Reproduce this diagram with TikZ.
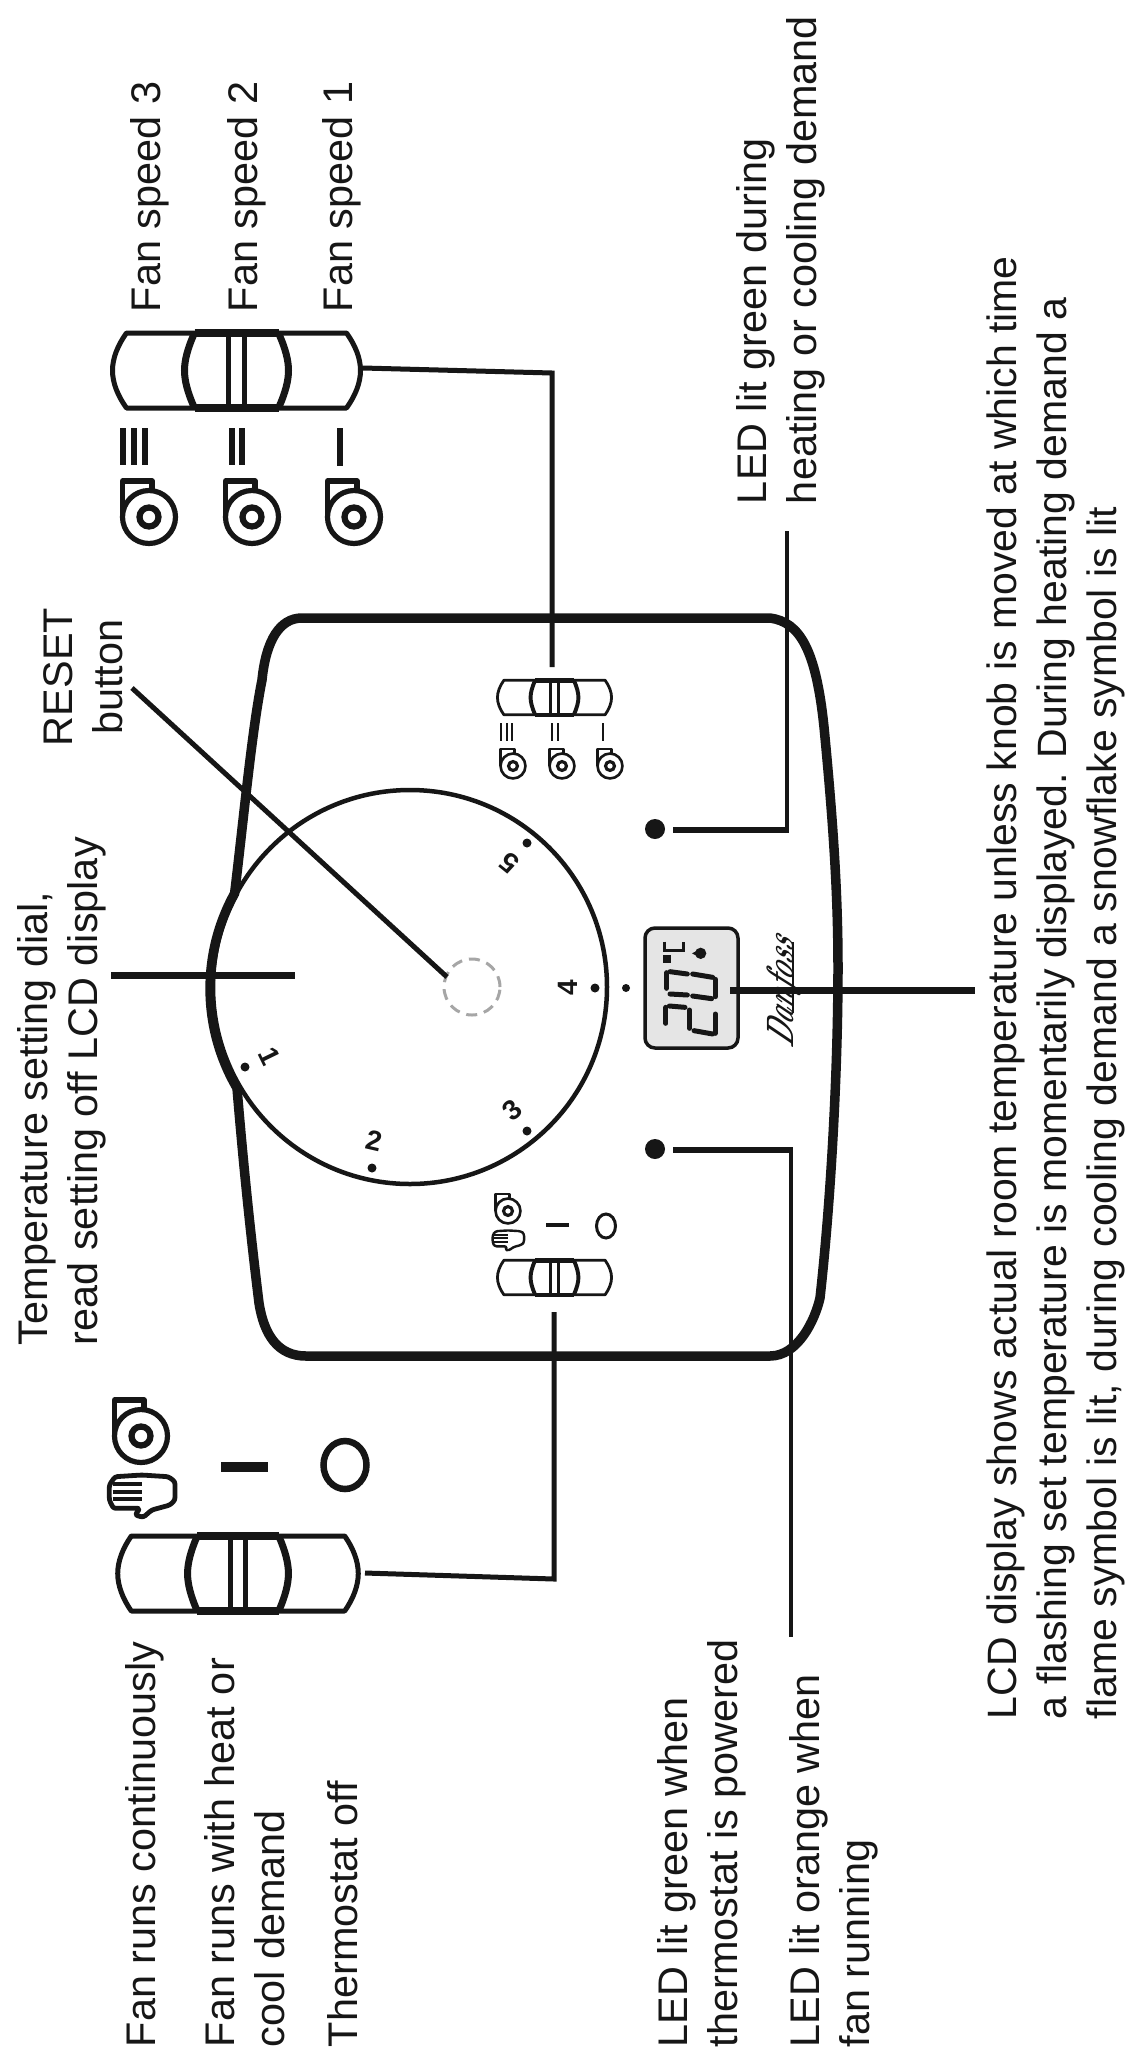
\documentclass[tikz,border=0pt]{standalone}
\usepackage{fontspec}
\setsansfont{Liberation Sans}
\usetikzlibrary{calc,shapes.geometric}
\definecolor{ink}{HTML}{161616}
\tikzset{
 lab/.style={rotate=90,anchor=base west,inner sep=0pt,outer sep=0pt,text=ink,align=left,font=\sffamily\fontsize{41.4}{49.8}\selectfont},
 labc/.style={lab,align=center,anchor=base},
 lead/.style={draw=ink,line width=#1,line cap=butt,line join=miter},
 dialnum/.style={inner sep=0pt,text=ink,font=\sffamily\bfseries\fontsize{28}{28}\selectfont},
 dialdot/.style={circle,fill=ink,inner sep=0pt,minimum size=#1},
 ledlamp/.style={circle,fill=ink,inner sep=0pt,minimum size=20pt},
 segm/.style={draw=ink,line width=5pt,line cap=round,line join=round},
 barmark/.style={draw=ink,line width=#1},
 pics/slidersym/.style={code={
   \draw[draw=ink,line width=#1,line join=round]
     (-110,-37.5) -- (110,-37.5) .. controls (119,-25) and (124,-12) .. (124,0)
     .. controls (124,12) and (119,25) .. (110,37.5) -- (-110,37.5)
     .. controls (-119,25) and (-124,12) .. (-124,0)
     .. controls (-124,-12) and (-119,-25) .. (-110,-37.5) -- cycle;
   \draw[draw=ink,line width=1.4*#1]
     (-42,-37.5) .. controls (-49,-22) and (-52,-10) .. (-52,0) .. controls (-52,10) and (-49,22) .. (-42,37.5);
   \draw[draw=ink,line width=1.4*#1]
     (42,-37.5) .. controls (49,-22) and (52,-10) .. (52,0) .. controls (52,10) and (49,22) .. (42,37.5);
   \draw[draw=ink,line width=1.6*#1] (-42,-37.5) -- (42,-37.5) (-42,37.5) -- (42,37.5);
   \draw[draw=ink,line width=#1] (-8,-37.5) -- (-8,37.5) (8,-37.5) -- (8,37.5);
 }},
 pics/fansym/.style={code={
   \draw[draw=ink,line width=#1] (0,0) circle[radius=26.5];
   \draw[draw=ink,line width=1.2*#1] (0,0) circle[radius=9.5];
   \draw[draw=ink,line width=#1,line join=round] (-26.5,0) -- (-26.5,-36) -- (3,-36) -- (3,-25);
 }},
 pics/handsym/.style={code={
   \draw[draw=ink,line width=#1,rounded corners=2.5pt,line join=round]
    (-0.8,-20) -- (26,-18.3) -- (32.5,-13.3) -- (32.5,5) -- (27.5,10) -- (9.2,15) -- (0.8,22.3)
    -- (-7.5,20) -- (-2.5,13.3) -- (-29.2,13.3) -- (-33.2,5) -- (-33.2,-10) -- (-27.5,-18.3) -- cycle;
   \draw[draw=ink,line width=.8*#1] (-30,-11) -- (-0.8,-11) (-30,-3.3) -- (-0.8,-3.3) (-30,4.3) -- (-0.8,4.3);
 }},
}
\begin{document}
\begin{tikzpicture}[x=1pt,y=-1pt]
\useasboundingbox (0,0) rectangle (1128,2051);
\fill[white] (0,0) rectangle (1128,2051);

% housing, whose upper edge follows the dial
\draw[draw=ink,line width=9.5pt,line join=round]
  (302,618) -- (770,618) .. controls (800,622) and (816,650) .. (824,727)
  .. controls (834,830) and (838,900) .. (838,968)
  .. controls (838,1060) and (832,1190) .. (820,1298)
  .. controls (815,1320) and (798,1356) .. (770,1356)
  -- (306,1356) .. controls (278,1356) and (264,1335) .. (259,1303)
  .. controls (250,1230) and (243,1160) .. (237,1088)
  arc[start angle=149.7,end angle=208.9,radius=197]
  .. controls (244,815) and (252,730) .. (262,680)
  .. controls (266,640) and (280,618) .. (302,618) -- cycle;

% dial
\coordinate (dialc) at (410,987);
\draw[draw=ink,line width=4.5pt] (dialc) circle[radius=197];
\node[draw=black!35,circle,line width=3pt,dash pattern=on 11pt off 7pt,minimum size=56pt,inner sep=0pt] (resetbtn) at (472,987) {};
\node[dialdot=9pt] (d1) at (245,1067) {};
\node[dialdot=9pt] (d2) at (372,1168) {};
\node[dialdot=9pt] (d3) at (527,1131) {};
\node[dialdot=9pt] (d4) at (595,988) {};
\node[dialdot=8pt] (d4b) at (626,988) {};
\node[dialdot=9pt] (d5) at (527,843) {};
\node[dialnum,rotate=-64] (n1) at (270,1056) {1};
\node[dialnum,rotate=-13] (n2) at (374,1141) {2};
\node[dialnum,rotate=40] (n3) at (512,1110) {3};
\node[dialnum,rotate=90] (n4) at (568,988) {4};
\node[dialnum,rotate=141] (n5) at (509,863) {5};

% LEDs
\node[ledlamp] (ledtop) at (655,829) {};
\node[ledlamp] (ledbot) at (655,1149) {};

% LCD
\node[draw=ink,fill=black!10,line width=3.5pt,rounded corners=10pt,minimum width=93pt,minimum height=120pt,inner sep=0pt] (lcd) at (691.5,988) {};
\begin{scope}[shift={(570,900)},x=0.3333pt,y=-0.3333pt]
  \draw[segm] (290,218) -- (290,265);
  \draw[segm] (300,215) -- (352,222) (368,222) -- (428,232);
  \draw[segm] (300,282) -- (352,285) (368,288) -- (425,296);
  \draw[segm] (436,238) -- (436,290);
  \draw[segm] (288,322) -- (288,370);
  \draw[segm] (298,318) -- (345,322);
  \draw[segm] (358,330) -- (358,385);
  \draw[segm] (372,392) -- (428,402);
  \draw[segm] (436,342) -- (436,400);
  \fill[ink] (280,165) rectangle (304,188);
  \draw[draw=ink,line width=3pt] (283,125) -- (283,152) -- (340,152) -- (340,125);
  \fill[ink] (392,160) circle[radius=17];
  \fill[ink] (366,160) -- (385,150) -- (385,170) -- cycle;
\end{scope}

% brand
\node[rotate=90,xslant=.5,xscale=.7,anchor=base,inner sep=0pt,text=ink,font=\rmfamily\itshape\bfseries\fontsize{38}{38}\selectfont] (brand) at (793,995) {Danfoss};
\coordinate (brandu1) at (793,942);
\coordinate (brandu2) at (793,1013);
\draw[draw=ink,line width=2pt] (brandu1) -- (brandu2);

% small sliders and their symbols
\pic at (554.5,697.5) [scale=.46] {slidersym=2.8pt};
\pic at (554.5,1277.5) [scale=.46] {slidersym=2.8pt};
\pic at (513,766) [scale=.47] {fansym=2.6pt};
\pic at (562,766) [scale=.47] {fansym=2.6pt};
\pic at (610,766) [scale=.47] {fansym=2.6pt};
\draw[barmark=2pt] (501,723) -- (501,741) (506.5,723) -- (506.5,741) (512,723) -- (512,741);
\draw[barmark=2.4pt] (552,723) -- (552,741) (558,723) -- (558,741);
\draw[barmark=2.4pt] (603,723) -- (603,741);
\pic at (508,1211) [scale=.47] {fansym=2.6pt};
\pic at (508.5,1240) [scale=.48] {handsym=2.4pt};
\draw[barmark=4.5pt] (546,1225) -- (569,1225);
\node[draw=ink,ellipse,line width=3pt,minimum width=19pt,minimum height=24pt,inner sep=0pt] (offsmall) at (606,1226) {};

% large fan speed detail
\pic at (236.5,370.5) {slidersym=5pt};
\pic at (149,517) {fansym=5.2pt};
\pic at (252,517) {fansym=5.2pt};
\pic at (354,517) {fansym=5.2pt};
\draw[barmark=6pt] (123,428) -- (123,465) (134,428) -- (134,465) (145,428) -- (145,465);
\draw[barmark=6pt] (232,428) -- (232,465) (242,428) -- (242,465);
\draw[barmark=6pt] (340,428) -- (340,466);

% large fan mode detail
\pic at (238,1573.5) [xscale=.97] {slidersym=5pt};
\pic at (141,1436) {fansym=5.2pt};
\pic at (142.5,1495) {handsym=4.8pt};
\draw[barmark=10pt] (221,1467) -- (268,1467);
\node[draw=ink,ellipse,line width=6.5pt,minimum width=43pt,minimum height=48pt,inner sep=0pt] (offlarge) at (345,1465) {};

% labels (a block is placed by the baseline of its last line)
\node[lab] (fs3) at (160,312) {Fan speed 3};
\node[lab] (fs2) at (257.5,312) {Fan speed 2};
\node[lab] (fs1) at (352,312) {Fan speed 1};
\node[lab] (leddemand) at (816.5,504) {LED lit green during\\heating or cooling demand};
\node[labc] (reset) at (122,677) {RESET\\button};
\node[lab] (tempdial) at (97,1345) {Temperature setting dial,\\read setting off LCD display};
\node[lab] (frc) at (155,2047) {Fan runs continuously};
\node[lab] (frh) at (284,2047) {Fan runs with heat or\\cool demand};
\node[lab] (toff) at (357.5,2047) {Thermostat off};
\node[lab] (ledpow) at (737,2047) {LED lit green when\\thermostat is powered};
\node[lab] (ledfan) at (869,2047) {LED lit orange when\\fan running};
\node[lab,font=\sffamily\fontsize{41}{50}\selectfont] (lcdtxt) at (1116.6,1719) {LCD display shows actual room temperature unless knob is moved at which time\\a flashing set temperature is momentarily displayed. During heating demand a\\flame symbol is lit, during cooling demand a snowflake symbol is lit};

% connectors
\coordinate (dialfree) at (111,975);
\coordinate (dialin) at (295,975);
\draw[lead=7pt] (dialfree) -- (dialin);
\coordinate (resetfree) at (132,688);
\draw[lead=5pt] (resetfree) -- (447,977);
\coordinate (lcdfree) at (975,990);
\draw[lead=7pt] (730,990) -- (lcdfree);
\coordinate (fsbend) at (552,373);
\coordinate (fsin) at (552,667);
\coordinate (fsout) at (363,368);
\draw[lead=5pt] (fsout) -- (fsbend) -- (fsin);
\coordinate (fmbend) at (554,1579);
\coordinate (fmin) at (554,1312);
\coordinate (fmout) at (365,1573);
\draw[lead=5pt] (fmout) -- (fmbend) -- (fmin);
\coordinate (l1bend) at (789,830);
\coordinate (l1up) at (787,833);
\coordinate (l1free) at (787,531);
\draw[lead=6pt] (ledtop.east) ++(8,1) -- (l1bend);
\draw[lead=4pt] (l1up) -- (l1free);
\coordinate (l2bend) at (793,1150);
\coordinate (l2down) at (791,1147);
\coordinate (l2free) at (791,1637);
\draw[lead=6pt] (ledbot.east) ++(8,1) -- (l2bend);
\draw[lead=4pt] (l2down) -- (l2free);
\end{tikzpicture}
\end{document}
